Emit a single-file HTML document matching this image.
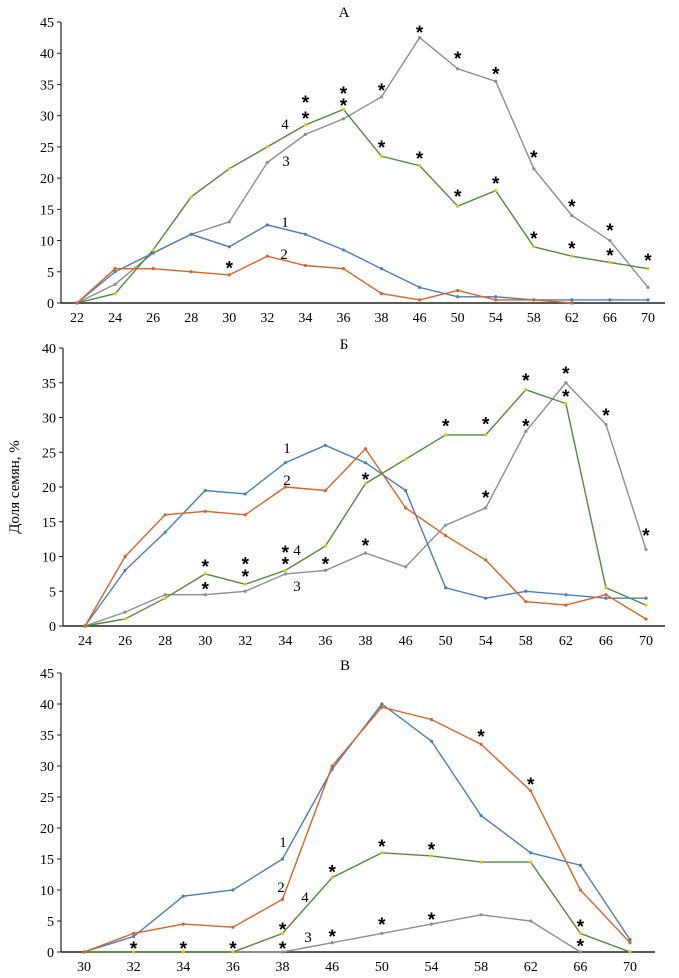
<!DOCTYPE html>
<html><head><meta charset="utf-8"><style>
body{margin:0;background:#fff}
svg{display:block;font-family:"Liberation Serif","DejaVu Serif",serif}
</style></head><body>
<svg id="s" width="679" height="978"></svg>
<script>
// ---- Chart A data ----
const catsA=[22,24,26,28,30,32,34,36,38,46,50,54,58,62,66,70];
const a1=[0,5,8,11,9,12.5,11,8.5,5.5,2.5,1,1,0.5,0.5,0.5,0.5];
const a2=[0,5.5,5.5,5,4.5,7.5,6,5.5,1.5,0.5,2,0.5,0.5,0,null,null];
const a3=[0,3,8,11,13,22.5,27,29.5,33,42.5,37.5,35.5,21.5,14,10,2.5];
const a4=[0,1.5,8.5,17,21.5,25,28.5,31,23.5,22,15.5,18,9,7.5,6.5,5.5];
const ticksA=[0,5,10,15,20,25,30,35,40,45];
const starsA=[[6,32.7],[6,30.1],[7,34.1],[7,32.2],[8,34.6],[9,43.9],[10,39.7],[11,37.2],[8,25.5],[9,23.7],[10,17.6],[11,19.7],[12,23.9],[12,10.9],[13,16],[13,9.3],[14,12.2],[14,8.2],[15,7.4],[4,6.2]];
// ---- Chart B data ----
const catsB=[24,26,28,30,32,34,36,38,46,50,54,58,62,66,70];
const b1=[0,8,13.5,19.5,19,23.5,26,23.5,19.5,5.5,4,5,4.5,4,4];
const b2=[0,10,16,16.5,16,20,19.5,25.5,17,13,9.5,3.5,3,4.5,1];
const b3=[0,2,4.5,4.5,5,7.5,8,10.5,8.5,14.5,17,28,35,29,11];
const b4=[0,1,4,7.5,6,8,11.5,20.5,24,27.5,27.5,34,32,5.5,3];
const ticksB=[0,5,10,15,20,25,30,35,40];
const starsB=[[3,9.1],[3,5.8],[4,9.4],[4,7.6],[5,11.1],[5,9.4],[6,9.4],[7,21.6],[7,12.1],[9,29.3],[10,29.6],[10,19],[11,35.8],[11,29.3],[12,36.8],[12,33.5],[13,30.8],[14,13.5]];
// ---- Chart C data ----
const catsC=[30,32,34,36,38,46,50,54,58,62,66,70];
const c1=[0,2.5,9,10,15,29.5,40,34,22,16,14,2];
const c2=[0,3,4.5,4,8.5,30,39.5,37.5,33.5,26,10,1.5];
const c3=[0,0,0,0,0,1.5,3,4.5,6,5,0,null];
const c4=[0,0,0,0,3,12,16,15.5,14.5,14.5,3,0];
const ticksC=[0,5,10,15,20,25,30,35,40,45];
const starsC=[[1,1.1],[2,1.1],[3,1.1],[4,4.2],[4,1.1],[5,13.5],[5,3.1],[6,17.6],[6,5],[7,17.1],[7,5.8],[8,35.3],[9,27.6],[10,4.7],[10,1.5]];

const NS="http://www.w3.org/2000/svg";
const svg=document.getElementById('s');
function mk(tag,attrs,parent,text){const e=document.createElementNS(NS,tag);for(const k in attrs)e.setAttribute(k,attrs[k]);if(text!==undefined)e.textContent=text;(parent||svg).appendChild(e);return e;}
const COL={s1:'#4a7ebb',s2:'#d8622a',s3:'#8e8e8e',s4:'#4f8a3c'};
const MK={s1:'#4a7ebb',s2:'#d8622a',s3:'#8e8e8e',s4:'#e8c21a'};

function chart(o){
  const g=mk('g',{});
  
  
  const n=o.cats.length;
  const xs=i=>o.x0+(o.x1-o.x0)*i/(n-1);
  const ys=v=>o.y0-(o.y0-o.yT)*v/o.vmax;
  const t=mk('text',{x:o.tx,y:o.ty,'font-size':15,'text-anchor':'middle'},g,o.title);
  
  
  const ya=mk('line',{x1:o.ax,y1:ys(o.vmax),x2:o.ax,y2:o.y0,stroke:'#222','stroke-width':1.2},g);
  
  
  const xa=mk('line',{x1:o.ax,y1:o.y0,x2:o.xe,y2:o.y0,stroke:'#222','stroke-width':1.6},g);
  
  
  o.ticks.forEach(v=>{
    mk('line',{x1:o.ax-4,y1:ys(v),x2:o.ax,y2:ys(v),stroke:'#222'},g);
    const tl=mk('text',{x:o.ax-7,y:ys(v)+5,'font-size':14,'text-anchor':'end'},g,v);
    
    
  });
  o.cats.forEach((c,i)=>{
    const tl=mk('text',{x:xs(i),y:o.y0+19,'font-size':14,'text-anchor':'middle'},g,c);
    
    
  });
  [['s3',o.s3],['s4',o.s4],['s1',o.s1],['s2',o.s2]].forEach(([k,arr])=>{
    let d='',pen=false;
    arr.forEach((v,i)=>{if(v===null){pen=false;return;}d+=(pen?'L':'M')+xs(i).toFixed(1)+','+ys(v).toFixed(1);pen=true;});
    const p=mk('path',{d:d,fill:'none',stroke:COL[k],'stroke-width':1.4},g);
    
    
    arr.forEach((v,i)=>{if(v===null)return;
      const m=mk('circle',{cx:xs(i),cy:ys(v),r:1.6,fill:MK[k]},g);
      
      
    });
  });
  o.stars.forEach(([i,v])=>{
    const s=mk('text',{x:xs(i),y:ys(v)+10,'font-size':19,'font-weight':'bold','text-anchor':'middle','font-family':'Liberation Sans, sans-serif'},g,'*');
    
    
  });
  o.labels.forEach(([txt,x,y])=>{
    const l=mk('text',{x:x,y:y+5,'font-size':15,'text-anchor':'middle'},g,txt);
    
    
  });
}
chart({name:'chart-a',title:'А',tx:344,ty:17,cats:catsA,s1:a1,s2:a2,s3:a3,s4:a4,ticks:ticksA,stars:starsA,vmax:45,
  x0:77,x1:648,y0:303,yT:22,ax:61,xe:665,labels:[['4',285,124],['3',286,161],['1',285,222],['2',284,254]]});
chart({name:'chart-b',title:'Б',tx:344,ty:349,cats:catsB,s1:b1,s2:b2,s3:b3,s4:b4,ticks:ticksB,stars:starsB,vmax:40,
  x0:85,x1:646,y0:626,yT:348,ax:63,xe:665,labels:[['1',287,448],['2',287,480],['4',297,550],['3',297,586]]});
chart({name:'chart-c',title:'В',tx:345,ty:670,cats:catsC,s1:c1,s2:c2,s3:c3,s4:c4,ticks:ticksC,stars:starsC,vmax:45,
  x0:84,x1:630,y0:952,yT:673,ax:61,xe:655,labels:[['1',283,842],['2',281,887],['4',305,897],['3',308,937]]});
const yt=mk('text',{x:0,y:0,'font-size':15,'text-anchor':'middle',transform:'translate(19,487) rotate(-90)'},svg,'Доля семян, %');


</script>
</body></html>
